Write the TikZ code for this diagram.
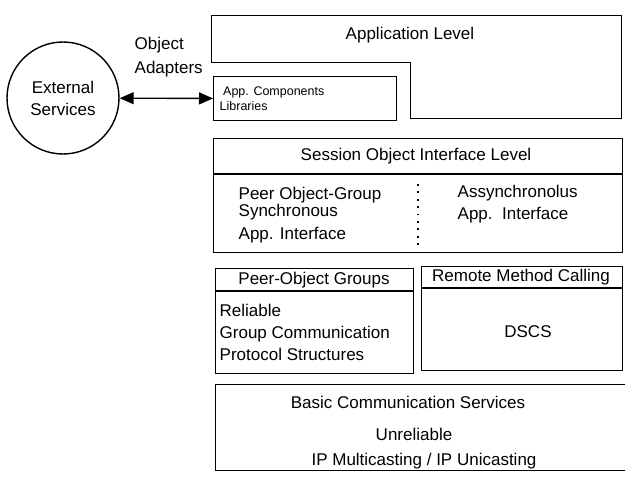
\documentclass[tikz,border=0pt]{standalone}
\usepackage{fontspec}
\setmainfont{Liberation Sans}
\usetikzlibrary{arrows.meta}

\begin{document}
\begin{tikzpicture}[x=1pt,y=-1pt,line width=1.4pt]
		\tikzset{box/.style={shape=rectangle,draw,anchor=north west,inner sep=0pt},
			txt/.style={font=\fontsize{17}{20}\selectfont,inner sep=0pt},
			lefttxt/.style={txt,align=left,anchor=west}}
		\useasboundingbox (0, 0) rectangle (625, 479);
		% outside service and adapter arrow
		\node (ES) at (63, 98) [shape=circle,draw,minimum size=112pt,align=center,txt] {External\\[2pt]Services};
		\node (OA) at (134, 57) [lefttxt] {Object\\[4pt]Adapters};
		\node (AC) at (213, 76) [box,minimum width=183pt,minimum height=44pt] {};
		\node (ACt) at (219, 99) [lefttxt,font=\fontsize{12.5}{14}\selectfont] {\ App. Components\\[1pt]Libraries};
		\draw[{Triangle[length=14pt,width=12pt]}-{Triangle[length=14pt,width=12pt]}] (ES) -- (AC);
		% application level
		\draw[line width=1.4pt] (211.5, 15.5) -- (621.5, 15.5) -- (621.5, 118.5) -- (410.5, 118.5) -- (410.5, 62.5) -- (211.5, 62.5) -- cycle;
		\node (AL) at (410, 35) [txt] {Application Level};
		% session level
		\node (SO) at (213, 138) [box,minimum width=409pt,minimum height=114pt] {};
		\draw (SO.west |- 0, 174) -- (SO.east |- 0, 174);
		\node (SOt) at (416, 156) [txt] {Session Object Interface Level};
		\node (SY) at (238, 215) [lefttxt] {Peer Object-Group\\[-3pt]Synchronous\\[3pt]App. Interface};
		\node (AS) at (457, 204) [lefttxt] {Assynchronolus\\[2pt]App.\ \ Interface};
		\draw[line width=1.8pt,dash pattern=on 1.8pt off 5.6pt] (418, 184) -- (418, 248);
		% peer groups and remote calling
		\node (PG) at (215, 268) [box,minimum width=198pt,minimum height=105pt] {};
		\draw (PG.west |- 0, 291) -- (PG.east |- 0, 291);
		\node (PGt) at (314, 280) [txt] {Peer-Object Groups};
		\node (PGb) at (219, 332) [lefttxt] {Reliable\\[2pt]Group Communication\\[2pt]Protocol Structures};
		\node (RM) at (421, 266) [box,minimum width=201pt,minimum height=104pt] {};
		\draw (RM.west |- 0, 288) -- (RM.east |- 0, 288);
		\node (RMt) at (521, 277) [txt] {Remote Method Calling};
		\node (DS) at (528, 332) [txt] {DSCS};
		% basic services
		\node (BC) at (215, 384) [box,minimum width=420pt,minimum height=86pt] {};
		\node (BCt) at (408, 402) [txt] {Basic Communication Services};
		\node (UR) at (414, 434) [txt] {Unreliable};
		\node (IP) at (424, 461) [txt] {IP Multicasting / IP Unicasting};
	\end{tikzpicture}
\end{document}
